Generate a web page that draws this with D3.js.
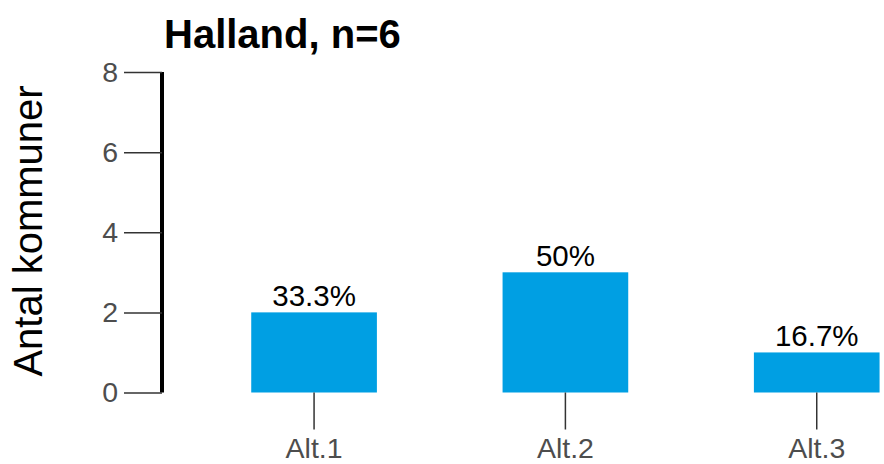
<!DOCTYPE html>
<html><head><meta charset="utf-8">
<script src="https://cdn.jsdelivr.net/npm/d3@7"></script>
<style>body{margin:0;background:#fff}svg{display:block}text{font-family:"Liberation Sans",Arial,sans-serif}</style>
</head><body>
<svg id="c" width="884" height="464"></svg>
<script>
const categories = ["Alt.1", "Alt.2", "Alt.3"];
const counts = [2, 3, 1];
const pctLabels = ["33.3%", "50%", "16.7%"];
const yTicks = [0, 2, 4, 6, 8];
const title = "Halland, n=6";
const yTitle = "Antal kommuner";

const svg = d3.select("#c");
const y = d3.scaleLinear().domain([0, 8]).range([392.5, 72]);
const x = d3.scaleBand().domain(categories).range([188.4, 942.4]).paddingInner(0.5).paddingOuter(0.25);

// bars
svg.selectAll("rect.bar").data(counts).join("rect")
  .attr("x", (d, i) => x(categories[i]))
  .attr("y", d => y(d))
  .attr("width", x.bandwidth())
  .attr("height", d => y(0) - y(d))
  .attr("fill", "#009FE3");

// value labels
svg.selectAll("text.lab").data(counts).join("text")
  .attr("x", (d, i) => x(categories[i]) + x.bandwidth() / 2)
  .attr("y", d => y(d) - 6)
  .attr("text-anchor", "middle")
  .attr("font-size", 29.5)
  .attr("fill", "#000")
  .text((d, i) => pctLabels[i]);

// y axis
const ya = svg.append("g").attr("transform", "translate(162,0)")
  .call(d3.axisLeft(y).tickValues(yTicks).tickSize(38).tickPadding(6).tickFormat(d3.format("d")));
ya.select(".domain").attr("stroke", "#000").attr("stroke-width", 4).attr("d", `M0,${y(8)}V${y(0)}`);
ya.selectAll(".tick line").attr("stroke", "#333").attr("stroke-width", 1.5);
ya.selectAll(".tick text").attr("font-size", 28.5).attr("fill", "#4d4d4d").attr("font-family", '"Liberation Sans",Arial,sans-serif');

// x axis
const xa = svg.append("g").attr("transform", `translate(0,${y(0)})`)
  .call(d3.axisBottom(x).tickSize(37).tickPadding(8.5));
xa.select(".domain").remove();
xa.selectAll(".tick line").attr("stroke", "#333").attr("stroke-width", 1.5);
xa.selectAll(".tick text").attr("font-size", 28.5).attr("fill", "#4d4d4d").attr("font-family", '"Liberation Sans",Arial,sans-serif');

// title
svg.append("text").attr("x", 164).attr("y", 48)
  .attr("font-size", 40).attr("font-weight", "bold").attr("fill", "#000").text(title);

// y title
svg.append("text").attr("transform", "translate(42,231) rotate(-90)")
  .attr("text-anchor", "middle").attr("font-size", 40).attr("fill", "#000").text(yTitle);
</script>
</body></html>
